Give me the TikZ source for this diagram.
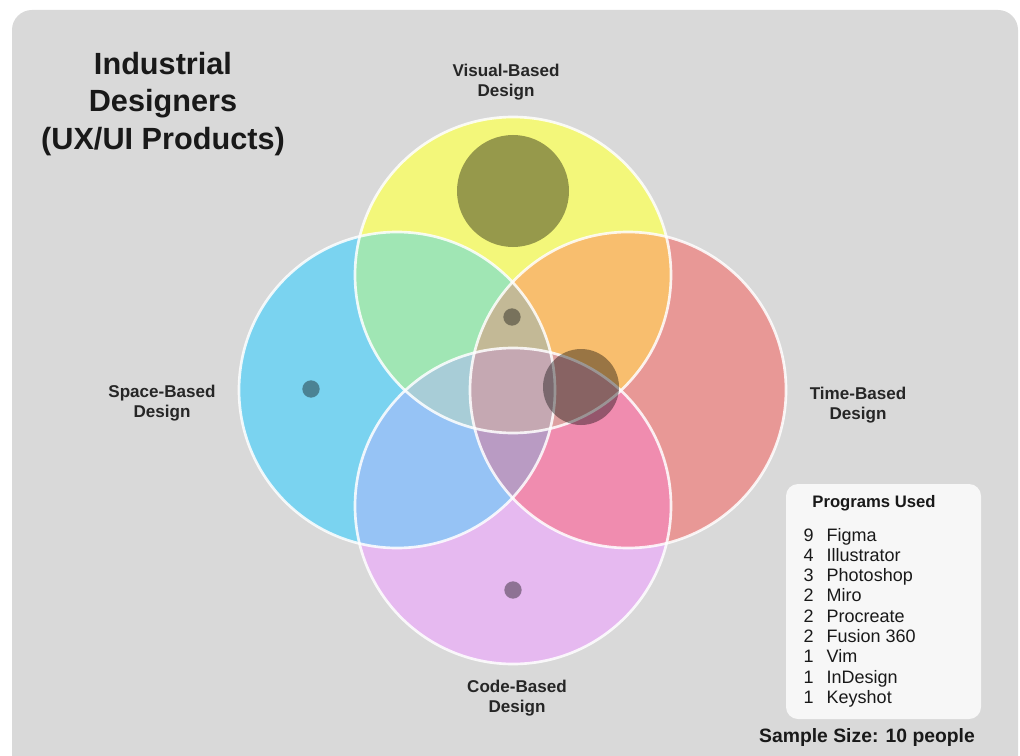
\documentclass[tikz,border=0pt]{standalone}
\usepackage{fontspec}
\setmainfont{Liberation Sans}
\begin{document}
\begin{tikzpicture}[x=0.75pt,y=-0.75pt,
  lbl/.style={font=\fontsize{12.8}{15}\selectfont\bfseries,align=center,text=black!85},
  item/.style={font=\fontsize{13.5}{15}\selectfont,text=black!90,anchor=base west},
  dotc/.style={fill=black,fill opacity=0.38},
  ring/.style={draw=white,line width=2pt,draw opacity=0.85}]
\definecolor{bg}{HTML}{D9D9D9}
\definecolor{cY}{HTML}{F3F77A}
\definecolor{cB}{HTML}{7AD3F0}
\definecolor{cR}{HTML}{E89896}
\definecolor{cP}{HTML}{E6B9F0}
\definecolor{cYB}{HTML}{A0E6B4}
\definecolor{cYR}{HTML}{F8BE6E}
\definecolor{cBP}{HTML}{96C3F5}
\definecolor{cRP}{HTML}{F08CAF}
\definecolor{cYBR}{HTML}{C3B996}
\definecolor{cYBP}{HTML}{A8CDD7}
\definecolor{cYRP}{HTML}{DCA0A0}
\definecolor{cBRP}{HTML}{B99BC3}
\definecolor{cAll}{HTML}{C5A8B2}
\definecolor{legbg}{HTML}{F7F7F7}
\useasboundingbox (0,0) rectangle (1020,756);
\fill[white] (0,0) rectangle (1020,756);
\fill[bg,rounded corners=15pt] (12,10) rectangle (1018,780);
\def\R{118.5pt}
\def\cY{(513,275) circle[radius=\R]}
\def\cB{(397,390) circle[radius=\R]}
\def\cR{(628,390) circle[radius=\R]}
\def\cP{(513,506) circle[radius=\R]}
% singles
\fill[cY] \cY; \fill[cB] \cB; \fill[cR] \cR; \fill[cP] \cP;
% pairs
\begin{scope}\clip \cY; \fill[cYB] \cB; \end{scope}
\begin{scope}\clip \cY; \fill[cYR] \cR; \end{scope}
\begin{scope}\clip \cB; \fill[cBP] \cP; \end{scope}
\begin{scope}\clip \cR; \fill[cRP] \cP; \end{scope}
% triples
\begin{scope}\clip \cY; \clip \cB; \fill[cYBR] \cR; \end{scope}
\begin{scope}\clip \cY; \clip \cB; \fill[cYBP] \cP; \end{scope}
\begin{scope}\clip \cY; \clip \cR; \fill[cYRP] \cP; \end{scope}
\begin{scope}\clip \cB; \clip \cR; \fill[cBRP] \cP; \end{scope}
% all
\begin{scope}\clip \cY; \clip \cB; \clip \cR; \fill[cAll] \cP; \end{scope}
% outlines
\draw[ring] \cY; \draw[ring] \cB; \draw[ring] \cR; \draw[ring] \cP;
% dots
\fill[dotc] (513,191) circle[radius=42pt];
\fill[dotc] (512,317) circle[radius=6.5pt];
\fill[dotc] (581,387) circle[radius=28.5pt];
\fill[dotc] (311,389) circle[radius=6.5pt];
\fill[dotc] (513,590) circle[radius=6.5pt];
% title
\node[font=\fontsize{23}{28}\selectfont\bfseries,align=center,text=black!90] (title) at (163,104) {Industrial\\Designers\\(UX/UI Products)};
% labels
\node[lbl] (lv) at (506,82) {Visual-Based\\Design};
\node[lbl] (ls) at (162,403) {Space-Based\\Design};
\node[lbl] (lt) at (858,405) {Time-Based\\Design};
\node[lbl] (lc) at (517,698) {Code-Based\\Design};
% legend
\fill[legbg,rounded corners=9pt] (786,484) rectangle (981,719);
\node[font=\fontsize{12.5}{15}\selectfont\bfseries,text=black!90] (lh) at (874,503) {Programs Used};
\foreach \n/\t [count=\i from 0] in {9/Figma,4/Illustrator,3/Photoshop,2/Miro,2/Procreate,2/Fusion 360,1/Vim,1/InDesign,1/Keyshot}{
  \node[item] (n\i) at (799,{541+20.3*\i}) {\n};
  \node[item] (p\i) at (822,{541+20.3*\i}) {\t};
}
\node[font=\fontsize{14.5}{17}\selectfont\bfseries,text=black!90] (ss) at (867,737) {Sample Size: 10 people};
\end{tikzpicture}
\end{document}
